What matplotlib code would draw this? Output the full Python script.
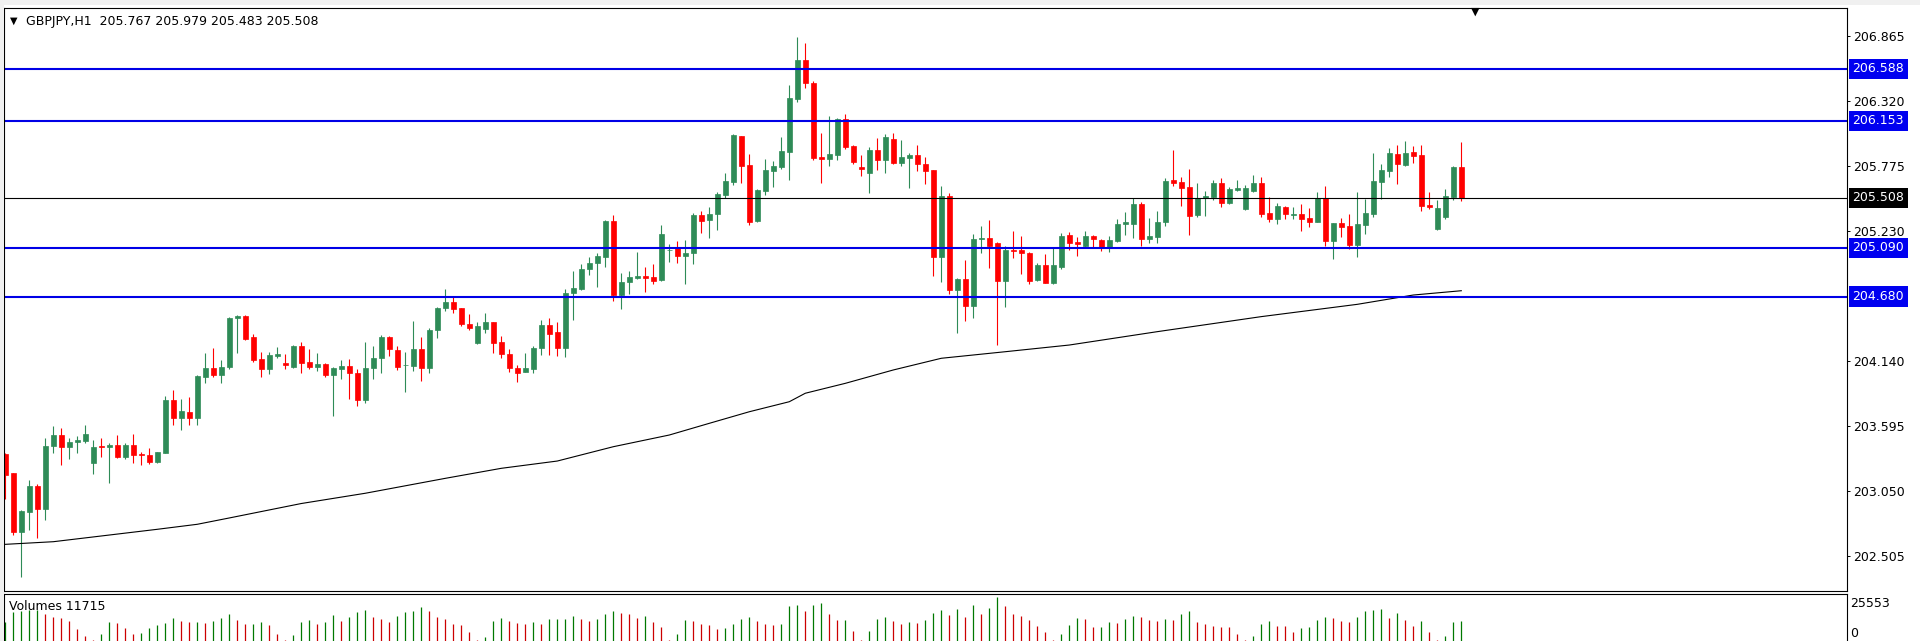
import numpy as np
import matplotlib.pyplot as plt
from matplotlib.patches import Rectangle

symbol = 'GBPJPY,H1'

# candle data, one row per hourly bar: open, high, low, close
ohlc = [
    (203.362, 203.370, 202.984, 203.186), (203.200, 203.205, 202.683, 202.711),
    (202.711, 202.893, 202.334, 202.887), (202.879, 203.144, 202.725, 203.094),
    (203.094, 203.110, 202.655, 202.898), (202.898, 203.493, 202.809, 203.429),
    (203.429, 203.597, 203.373, 203.518), (203.518, 203.577, 203.270, 203.423),
    (203.423, 203.493, 203.317, 203.462), (203.465, 203.513, 203.373, 203.479),
    (203.474, 203.605, 203.457, 203.530), (203.284, 203.479, 203.192, 203.423),
    (203.432, 203.493, 203.339, 203.418), (203.418, 203.451, 203.122, 203.437),
    (203.437, 203.521, 203.331, 203.339), (203.339, 203.457, 203.317, 203.437),
    (203.437, 203.530, 203.289, 203.356), (203.362, 203.381, 203.270, 203.351),
    (203.353, 203.409, 203.275, 203.298), (203.298, 203.381, 203.284, 203.376),
    (203.373, 203.848, 203.367, 203.814), (203.814, 203.898, 203.605, 203.666),
    (203.666, 203.823, 203.563, 203.722), (203.711, 203.837, 203.605, 203.666),
    (203.666, 204.024, 203.605, 204.015), (204.010, 204.205, 203.954, 204.080),
    (204.080, 204.247, 204.004, 204.024), (204.024, 204.149, 203.960, 204.088),
    (204.094, 204.513, 204.071, 204.504), (204.501, 204.524, 204.205, 204.518),
    (204.518, 204.524, 204.317, 204.323), (204.345, 204.365, 204.135, 204.149),
    (204.158, 204.219, 204.010, 204.074), (204.074, 204.219, 204.032, 204.191),
    (204.183, 204.261, 204.169, 204.197), (204.122, 204.200, 204.071, 204.110),
    (204.094, 204.275, 204.085, 204.267), (204.270, 204.298, 204.038, 204.127),
    (204.133, 204.242, 204.072, 204.094), (204.094, 204.206, 204.060, 204.116),
    (204.116, 204.127, 204.010, 204.024), (204.024, 204.088, 203.683, 204.080),
    (204.077, 204.150, 203.991, 204.097), (204.097, 204.158, 203.823, 204.038),
    (204.044, 204.072, 203.767, 203.815), (203.815, 204.298, 203.792, 204.080),
    (204.080, 204.270, 203.991, 204.164), (204.164, 204.359, 204.044, 204.345),
    (204.345, 204.354, 204.183, 204.239), (204.234, 204.270, 204.066, 204.094),
    (204.106, 204.214, 203.884, 204.110), (204.102, 204.477, 204.060, 204.239),
    (204.239, 204.340, 203.977, 204.086), (204.086, 204.415, 204.038, 204.401),
    (204.401, 204.597, 204.337, 204.588), (204.583, 204.742, 204.560, 204.636),
    (204.636, 204.675, 204.541, 204.580), (204.583, 204.588, 204.437, 204.452),
    (204.452, 204.537, 204.401, 204.421), (204.289, 204.471, 204.284, 204.435),
    (204.410, 204.541, 204.379, 204.465), (204.465, 204.471, 204.211, 204.295),
    (204.298, 204.351, 204.164, 204.197), (204.200, 204.239, 204.052, 204.080),
    (204.080, 204.108, 203.968, 204.044), (204.052, 204.206, 204.052, 204.080),
    (204.072, 204.270, 204.044, 204.247), (204.247, 204.485, 204.192, 204.443),
    (204.443, 204.505, 204.192, 204.368), (204.382, 204.471, 204.183, 204.247),
    (204.253, 204.745, 204.178, 204.708), (204.708, 204.898, 204.485, 204.756),
    (204.745, 204.954, 204.736, 204.909), (204.909, 205.009, 204.861, 204.959),
    (204.959, 205.049, 204.764, 205.021), (205.015, 205.322, 204.931, 205.317),
    (205.314, 205.364, 204.646, 204.694), (204.694, 204.875, 204.579, 204.800),
    (204.800, 204.898, 204.702, 204.842), (204.839, 205.057, 204.825, 204.853),
    (204.853, 204.931, 204.722, 204.839), (204.845, 204.954, 204.786, 204.814),
    (204.820, 205.280, 204.814, 205.205), (205.071, 205.121, 204.973, 205.074),
    (205.085, 205.149, 204.959, 205.023), (205.023, 205.155, 204.786, 205.049),
    (205.043, 205.384, 204.954, 205.364), (205.364, 205.400, 205.211, 205.317),
    (205.322, 205.428, 205.169, 205.373), (205.370, 205.554, 205.238, 205.540),
    (205.534, 205.713, 205.504, 205.646), (205.643, 206.043, 205.615, 206.034),
    (206.023, 206.029, 205.635, 205.777), (205.783, 205.872, 205.280, 205.308),
    (205.314, 205.579, 205.308, 205.574), (205.568, 205.833, 205.532, 205.741),
    (205.736, 205.819, 205.596, 205.777), (205.769, 206.015, 205.750, 205.900),
    (205.895, 206.453, 205.657, 206.342), (206.336, 206.853, 206.314, 206.663),
    (206.663, 206.808, 206.431, 206.467), (206.473, 206.487, 205.825, 205.845),
    (205.853, 206.048, 205.635, 205.831), (205.831, 206.194, 205.777, 205.875),
    (205.870, 206.174, 205.825, 206.169), (206.169, 206.208, 205.914, 205.937),
    (205.942, 205.951, 205.789, 205.811), (205.764, 205.867, 205.694, 205.752),
    (205.719, 205.931, 205.546, 205.905), (205.909, 206.007, 205.742, 205.825),
    (205.825, 206.043, 205.719, 206.021), (205.998, 206.054, 205.789, 205.803),
    (205.803, 205.993, 205.778, 205.848), (205.839, 205.881, 205.593, 205.867),
    (205.867, 205.951, 205.736, 205.789), (205.792, 205.848, 205.621, 205.736),
    (205.742, 205.742, 204.856, 205.010), (205.010, 205.610, 204.806, 205.524),
    (205.524, 205.546, 204.703, 204.736), (204.736, 204.834, 204.373, 204.828),
    (204.828, 204.987, 204.479, 204.605), (204.605, 205.202, 204.499, 205.163),
    (205.161, 205.272, 205.043, 205.175), (205.175, 205.323, 204.923, 205.105),
    (205.133, 205.141, 204.275, 204.811), (204.811, 205.108, 204.596, 205.071),
    (205.071, 205.230, 205.001, 205.063), (205.071, 205.188, 204.867, 205.049),
    (205.049, 205.057, 204.786, 204.811), (204.820, 204.959, 204.811, 204.945),
    (204.945, 205.035, 204.792, 204.797), (204.797, 205.099, 204.783, 204.945),
    (204.932, 205.216, 204.909, 205.188), (205.197, 205.219, 205.071, 205.133),
    (205.141, 205.183, 205.024, 205.119), (205.108, 205.230, 205.099, 205.188),
    (205.188, 205.197, 205.099, 205.161), (205.155, 205.161, 205.066, 205.091),
    (205.091, 205.191, 205.057, 205.155), (205.149, 205.331, 205.135, 205.289),
    (205.289, 205.387, 205.197, 205.303), (205.289, 205.504, 205.169, 205.457),
    (205.457, 205.471, 205.108, 205.163), (205.163, 205.342, 205.127, 205.188),
    (205.183, 205.401, 205.133, 205.303), (205.303, 205.672, 205.275, 205.649),
    (205.658, 205.910, 205.611, 205.636), (205.642, 205.681, 205.440, 205.594),
    (205.600, 205.748, 205.197, 205.359), (205.365, 205.636, 205.351, 205.505),
    (205.505, 205.569, 205.359, 205.524), (205.519, 205.658, 205.491, 205.636),
    (205.636, 205.672, 205.429, 205.463), (205.463, 205.597, 205.457, 205.583),
    (205.575, 205.658, 205.569, 205.588), (205.413, 205.616, 205.407, 205.588),
    (205.569, 205.700, 205.561, 205.636), (205.636, 205.681, 205.351, 205.373),
    (205.379, 205.513, 205.304, 205.329), (205.329, 205.463, 205.287, 205.440),
    (205.435, 205.440, 205.329, 205.371), (205.365, 205.429, 205.332, 205.371),
    (205.373, 205.457, 205.234, 205.332), (205.343, 205.421, 205.262, 205.304),
    (205.309, 205.561, 205.304, 205.505), (205.505, 205.608, 205.105, 205.150),
    (205.150, 205.301, 204.994, 205.295), (205.295, 205.337, 205.183, 205.267),
    (205.273, 205.371, 205.077, 205.114), (205.114, 205.561, 205.016, 205.287),
    (205.281, 205.499, 205.203, 205.379), (205.373, 205.882, 205.345, 205.650),
    (205.644, 205.792, 205.499, 205.742), (205.734, 205.924, 205.681, 205.882),
    (205.876, 205.952, 205.622, 205.790), (205.784, 205.985, 205.778, 205.882),
    (205.890, 205.946, 205.798, 205.862), (205.868, 205.952, 205.399, 205.443),
    (205.449, 205.561, 205.412, 205.435), (205.245, 205.491, 205.239, 205.421),
    (205.351, 205.583, 205.332, 205.524), (205.513, 205.778, 205.491, 205.770),
    (205.767, 205.979, 205.483, 205.508),
]
opens = np.array([r[0] for r in ohlc])
highs = np.array([r[1] for r in ohlc])
lows = np.array([r[2] for r in ohlc])
closes = np.array([r[3] for r in ohlc])

volumes = [
    10845, 16849, 17624, 18011, 18398, 15687, 13750, 13557, 11620, 6972,
    2905, 581, 4067, 10845, 10264, 7360, 4067, 4842, 7747, 9489,
    10264, 13169, 11620, 10845, 11233, 10652, 11814, 13557, 15687, 12201,
    9683, 10071, 10845, 9296, 4067, 620, 3486, 10845, 12201, 9877,
    10845, 15106, 11620, 13750, 16849, 18011, 14138, 12588, 11233, 14718,
    16849, 17430, 19948, 17430, 14138, 12782, 10071, 9489, 5229, 650,
    2518, 11620, 13363, 11620, 10652, 9877, 11039, 10071, 12588, 12782,
    12976, 14525, 12782, 11620, 12782, 15687, 17430, 16655, 15687, 13363,
    14525, 10845, 8134, 700, 4067, 12201, 11620, 9877, 9296, 6778,
    7360, 9877, 12782, 14138, 11620, 9877, 9489, 10071, 20335, 20916,
    17624, 20916, 22272, 15687, 12008, 12395, 5810, 650, 5810, 12782,
    14138, 11620, 9877, 11039, 10652, 12201, 16462, 18011, 15106, 18592,
    14138, 20916, 15687, 19367, 25553, 20335, 15687, 14525, 12201, 8909,
    5422, 600, 4067, 9296, 13169, 12976, 7940, 8328, 10845, 10264,
    12782, 14525, 14138, 12201, 11620, 12782, 12201, 16074, 17430, 10845,
    9877, 8909, 8328, 7940, 4067, 600, 2905, 9877, 11620, 8909,
    8715, 5229, 7747, 8134, 12201, 14138, 13169, 11620, 10845, 14138,
    17430, 18398, 18592, 13169, 16462, 12201, 8909, 11620, 5229, 650,
    2905, 10845, 11715,
]

# moving average read at a few bar positions
ma_bar = [0, 6, 12, 19, 24, 28, 37, 45, 55, 62, 69, 76, 83, 88,
          93, 98, 100, 105, 111, 117, 125, 133, 144, 157, 169, 176, 182]
ma_val = [202.605, 202.627, 202.675, 202.731, 202.773, 202.826, 202.947,
          203.033, 203.158, 203.242, 203.303, 203.423, 203.521, 203.619,
          203.716, 203.800, 203.871, 203.954, 204.066, 204.164, 204.219,
          204.275, 204.387, 204.513, 204.616, 204.694, 204.730]

levels = [206.588, 206.153, 205.090, 204.680]
price_ticks = [202.505, 203.050, 203.595, 204.140, 205.230, 205.775, 206.320, 206.865]
vol_max = 25553

W, H = 1920, 641
fig = plt.figure(figsize=(W / 100, H / 100), dpi=100)
fig.patch.set_facecolor('white')
fig.patches.append(Rectangle((0, 1 - 5 / H), 1, 5 / H, transform=fig.transFigure,
                             facecolor='#f0f0f0', edgecolor='none'))
fig.patches.append(Rectangle((0, 0), 4 / W, 1, transform=fig.transFigure,
                             facecolor='#f0f0f0', edgecolor='none'))

left, right = 4, 1847
ax = fig.add_axes([left / W, 50 / H, (right - left) / W, (591 - 8) / H])
axv = fig.add_axes([left / W, 0, (right - left) / W, 47 / H])

idx = np.arange(len(opens))
up = closes >= opens
green, red = '#2e8b57', '#ff0000'
colors = np.where(up, green, red)

# candles
ax.vlines(idx, lows, highs, colors=colors, linewidth=0.8)
body_lo = np.minimum(opens, closes)
body_h = np.maximum(np.abs(closes - opens), 0.003)
ax.bar(idx, body_h, bottom=body_lo, width=0.6, color=colors, edgecolor=colors,
       linewidth=0.5)

ax.plot(ma_bar, ma_val, color='black', linewidth=0.8)

for lv in levels:
    ax.axhline(lv, color='#0000e6', linewidth=1.5)
ax.axhline(closes[-1], color='black', linewidth=0.8)

ax.set_xlim((left - 5.3) / 8, (right - 5.3) / 8)
ax.set_ylim(207.166 - 591 * 0.008379, 207.166 - 8 * 0.008379)
ax.set_xticks([])
ax.yaxis.tick_right()
ax.set_yticks(price_ticks)
ax.set_yticklabels([f'{t:.3f}' for t in price_ticks])
ax.tick_params(axis='y', direction='out', length=2.5, width=0.7, pad=2,
               labelsize=9, colors='black')
for s in ax.spines.values():
    s.set_linewidth(0.8)

ytr = ax.get_yaxis_transform()
for lv in levels:
    ax.text(1.003, lv, f'{lv:.3f}', transform=ytr, ha='left', va='center',
            fontsize=9, color='white', clip_on=False,
            bbox=dict(boxstyle='square,pad=0.3', facecolor='#0000f0', edgecolor='none'))
ax.text(1.003, closes[-1], f'{closes[-1]:.3f}', transform=ytr, ha='left', va='center',
        fontsize=9, color='white', clip_on=False,
        bbox=dict(boxstyle='square,pad=0.3', facecolor='black', edgecolor='none'))

# volumes: green when higher than the previous bar
vol = np.array(volumes)
vcol = ['#007800'] + ['#007800' if vol[i] > vol[i - 1] else '#cc0000'
                      for i in range(1, len(vol))]
axv.vlines(idx, 0, vol, colors=vcol, linewidth=0.9)
axv.set_xlim(ax.get_xlim())
axv.set_ylim(0, vol_max * 47 / 43.7)
axv.set_xticks([])
axv.set_yticks([])
axv.spines['bottom'].set_visible(False)
for s in axv.spines.values():
    s.set_linewidth(0.8)
axv.text(1.0015, 0.79, str(vol_max), transform=axv.transAxes, ha='left', va='center',
         fontsize=9)
axv.text(1.0015, 0.15, '0', transform=axv.transAxes, ha='left', va='center', fontsize=9)

fig.text(9 / W, 1 - 606 / H, f'Volumes {volumes[-1]}', ha='left', va='center', fontsize=9)

fig.text(14 / W, 1 - 21 / H, '\u25bc', ha='center', va='center', fontsize=7)
fig.text(26 / W, 1 - 21 / H,
         f'{symbol}  {opens[-1]:.3f} {highs[-1]:.3f} {lows[-1]:.3f} {closes[-1]:.3f}',
         ha='left', va='center', fontsize=9)
fig.text(1475 / W, 1 - 12 / H, '\u25bc', ha='center', va='center', fontsize=8)

fig.savefig('out.png', dpi=100)
